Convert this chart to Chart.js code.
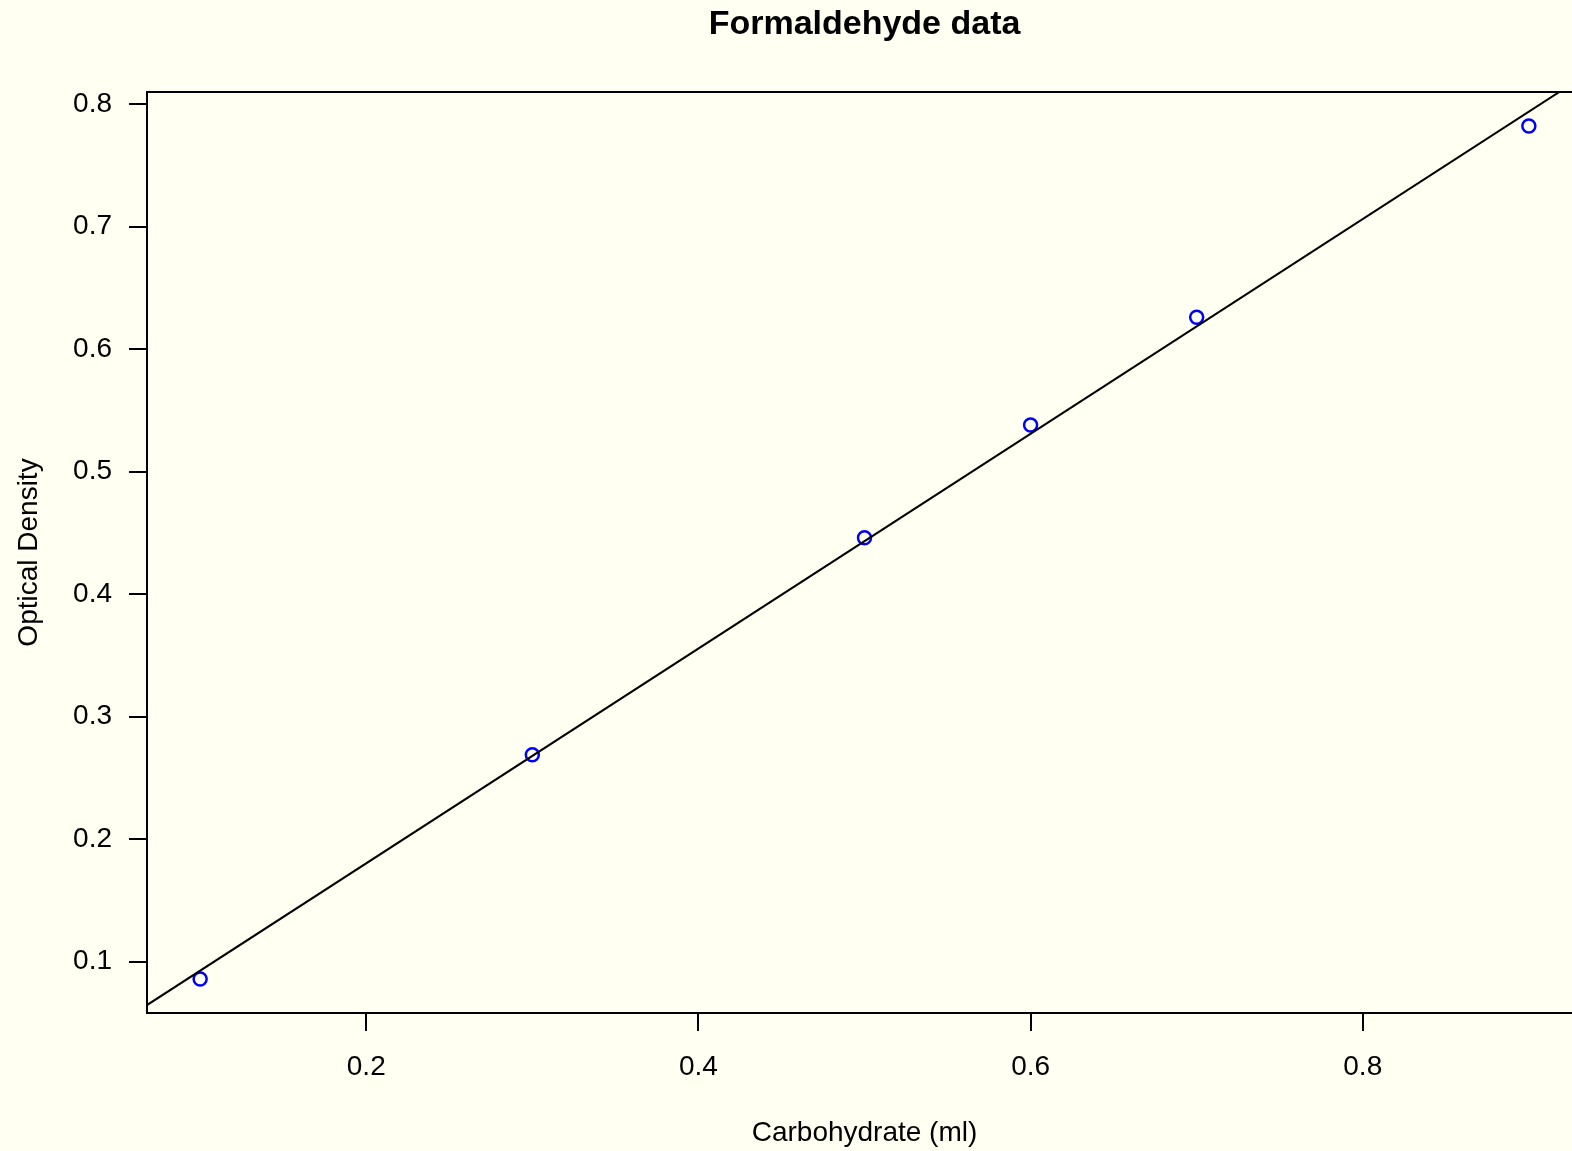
<!DOCTYPE html>
<html lang="en">
<head>
    <meta charset="UTF-8">
    <title>Formaldehyde data</title>
    <script src="https://cdn.jsdelivr.net/npm/chart.js"></script>
    <style>
        html, body { margin: 0; padding: 0; overflow: hidden; background: #fffff2; }
        canvas { display: block; background: #fffff2; }
    </style>
</head>
<body>
    <canvas id="chart" width="1591" height="1151"></canvas>

    <script>
        // Formaldehyde calibration: carbohydrate amount vs optical density
        const carb = [0.1, 0.3, 0.5, 0.6, 0.7, 0.9];
        const optden = [0.086, 0.269, 0.446, 0.538, 0.626, 0.782];

        // least-squares fit  optden ~ carb
        const fitIntercept = 0.0051;
        const fitSlope = 0.8763;

        const xTicks = [0.2, 0.4, 0.6, 0.8];
        const xTickLabels = ['0.2', '0.4', '0.6', '0.8'];
        const yTicks = [0.1, 0.2, 0.3, 0.4, 0.5, 0.6, 0.7, 0.8];
        const yTickLabels = ['0.1', '0.2', '0.3', '0.4', '0.5', '0.6', '0.7', '0.8'];

        // axis limits padded 4% beyond the data range
        const xMin = 0.068, xMax = 0.932;
        const yMin = 0.0582, yMax = 0.8098;

        const fitLine = [xMin, xMax].map(x => ({ x: x, y: fitIntercept + fitSlope * x }));

        Chart.defaults.font.family = "'Liberation Sans', Arial, Helvetica, sans-serif";
        Chart.defaults.color = '#000';

        const axisGrid = {
            display: true,
            drawOnChartArea: false,
            drawTicks: true,
            tickLength: 18,
            color: '#000',
            lineWidth: 2
        };
        const axisBorder = { display: true, color: '#000', width: 2 };

        new Chart(document.getElementById('chart'), {
            type: 'scatter',
            data: {
                datasets: [
                    {
                        label: 'fit',
                        type: 'line',
                        data: fitLine,
                        borderColor: '#000',
                        borderWidth: 2,
                        pointRadius: 0,
                        fill: false
                    },
                    {
                        label: 'Formaldehyde',
                        data: carb.map((x, i) => ({ x: x, y: optden[i] })),
                        pointStyle: 'circle',
                        pointRadius: 6.5,
                        pointBorderWidth: 2.5,
                        pointBorderColor: '#0000ff',
                        pointBackgroundColor: 'rgba(0,0,0,0)'
                    }
                ]
            },
            options: {
                responsive: false,
                animation: false,
                layout: { padding: { left: 0, right: 6, top: 0, bottom: 0 } },
                plugins: {
                    legend: { display: false },
                    tooltip: { enabled: false }
                },
                scales: {
                    x: {
                        type: 'linear',
                        position: 'bottom',
                        min: xMin,
                        max: xMax,
                        afterBuildTicks: s => { s.ticks = xTicks.map(v => ({ value: v })); },
                        afterFit: s => { s.height = 138; },
                        ticks: {
                            padding: 19,
                            font: { size: 28 },
                            maxRotation: 0,
                            callback: (v, i) => xTickLabels[i]
                        },
                        grid: axisGrid,
                        border: axisBorder,
                        title: {
                            display: true,
                            text: 'Carbohydrate (ml)',
                            font: { size: 28 },
                            padding: { top: 0, bottom: 0.5 }
                        }
                    },
                    xTop: {
                        type: 'linear',
                        position: 'top',
                        min: xMin,
                        max: xMax,
                        afterFit: s => { s.height = 92; },
                        ticks: { display: false },
                        grid: { display: false, drawTicks: false },
                        border: axisBorder,
                        title: {
                            display: true,
                            text: 'Formaldehyde data',
                            font: { size: 34, weight: 'bold' },
                            padding: { top: 4.6, bottom: 0 }
                        }
                    },
                    y: {
                        type: 'linear',
                        position: 'left',
                        min: yMin,
                        max: yMax,
                        afterBuildTicks: s => { s.ticks = yTicks.map(v => ({ value: v })); },
                        afterFit: s => { s.width = 147; },
                        ticks: {
                            padding: 17,
                            font: { size: 28 },
                            callback: (v, i) => yTickLabels[i]
                        },
                        grid: axisGrid,
                        border: axisBorder,
                        title: {
                            display: true,
                            text: 'Optical Density',
                            font: { size: 28 },
                            padding: { top: 12, bottom: 0 }
                        }
                    }
                }
            }
        });
    </script>
</body>
</html>
